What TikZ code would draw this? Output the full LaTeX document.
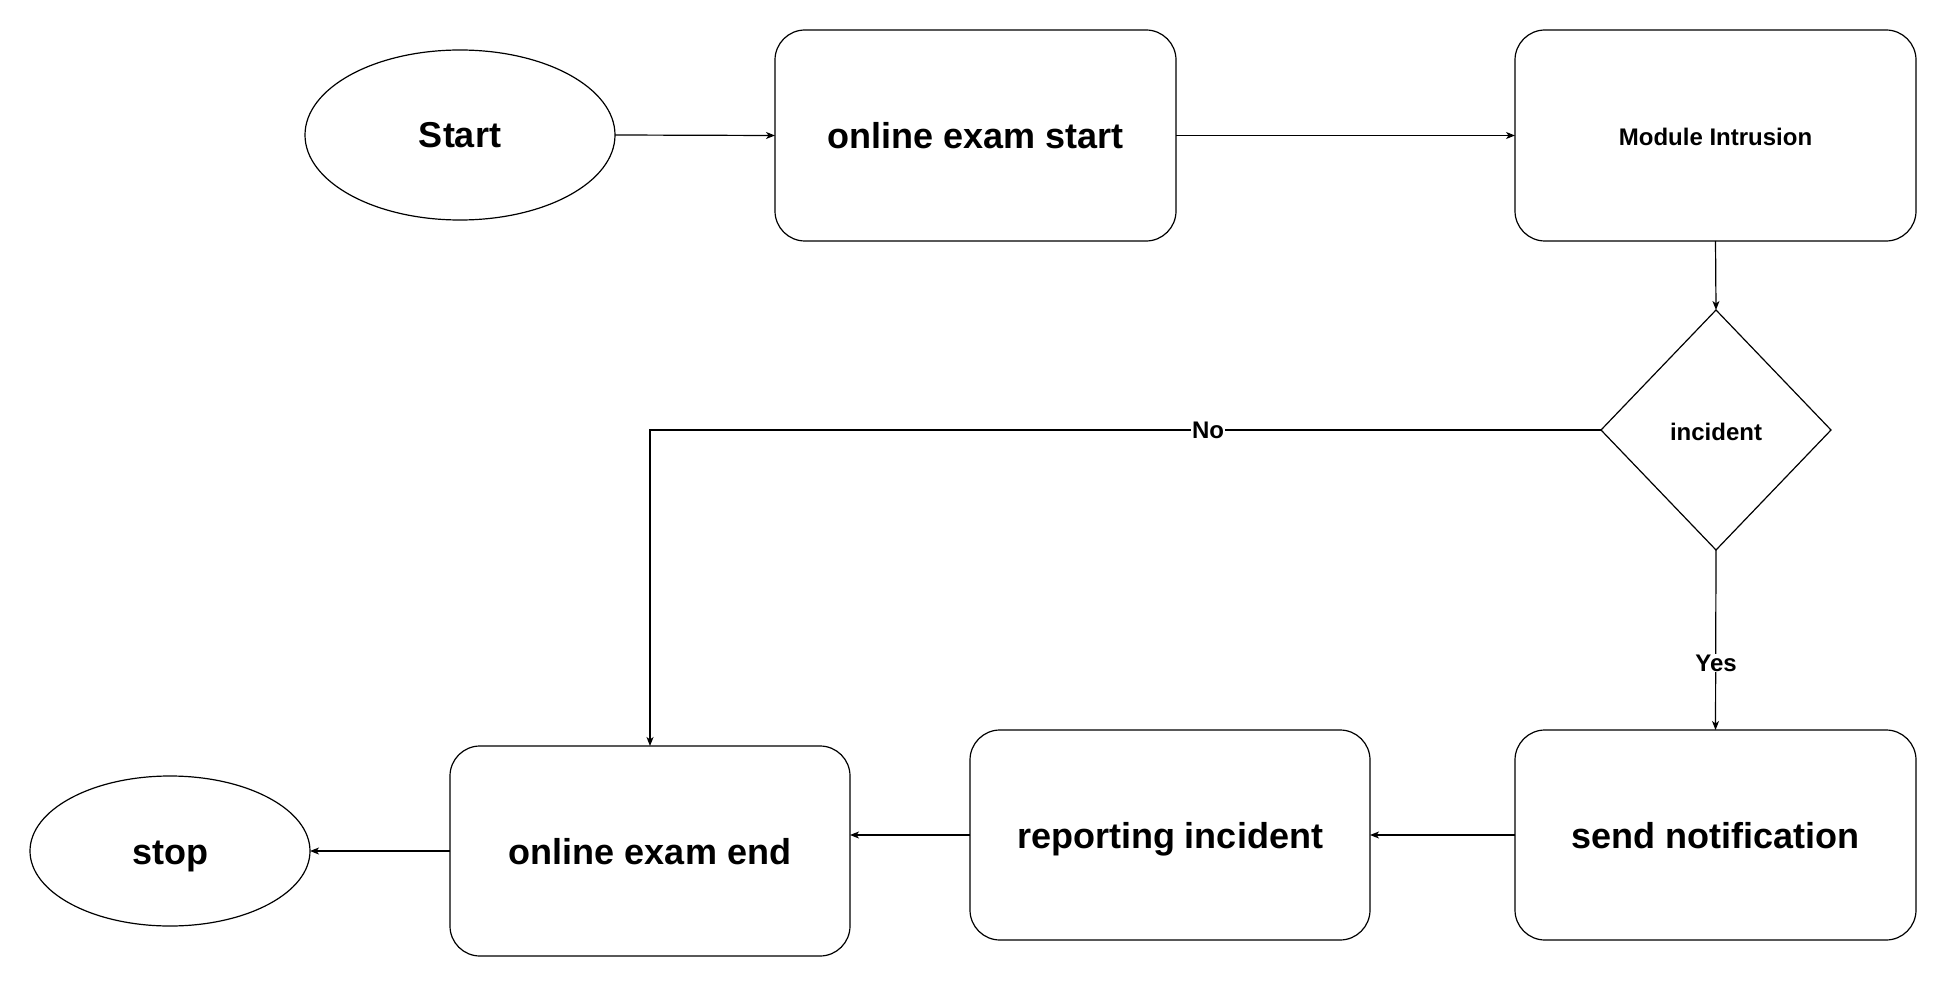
\documentclass[tikz,border=0pt]{standalone}
\usepackage{fontspec}
\setmainfont{Liberation Sans}
\usetikzlibrary{shapes.geometric,arrows.meta}
\begin{document}
\begin{tikzpicture}[x=1pt,y=-1pt,
  base/.style={draw=black, line width=1.2pt, font=\bfseries\fontsize{36}{43}\selectfont, inner sep=0pt, outer sep=0pt, fill=white, text height=32pt, text depth=6pt},
  procbox/.style={base, rectangle, rounded corners=30pt, minimum width=401pt, minimum height=211pt},
  smalltext/.style={font=\bfseries\fontsize{24}{29}\selectfont, text height=22pt, text depth=1.6pt},
  term/.style={base, ellipse},
  decision/.style={base, diamond, minimum width=230pt, minimum height=240pt},
  conn/.style={draw=black, line width=1.2pt, -{Stealth[length=9pt,width=7pt,inset=2.5pt]}},
  lbl/.style={font=\bfseries\fontsize{24}{29}\selectfont, fill=white, inner sep=1pt}
]
\useasboundingbox (0,0) rectangle (1946,987);

\node[term, minimum width=310pt, minimum height=170pt] (start) at (460,135) {Start};
\node[procbox] (oes) at (975.5,135.5) {online exam start};
\node[procbox, smalltext] (mi) at (1715.5,135.5) {Module Intrusion};
\node[decision, smalltext] (dec) at (1716,430) {incident};
\node[procbox, minimum height=210pt] (send) at (1715.5,835) {send notification};
\node[procbox, minimum width=400pt, minimum height=210pt] (rep) at (1170,835) {reporting incident};
\node[procbox, minimum width=400pt, minimum height=210pt] (end) at (650,851) {online exam end};
\node[term, minimum width=280pt, minimum height=150pt] (stop) at (170,851) {stop};

\draw[conn] (start.east) -- (oes.west);
\draw[conn] (oes.east) -- (mi.west);
\draw[conn] (mi.south) -- (dec.north);
\draw[conn] (dec.west) -| (end.north);
\node[lbl] (nolbl) at (1208,430) {No};
\draw[conn] (dec.south) -- (send.north);
\node[lbl] (yeslbl) at (1716,663) {Yes};
\draw[conn] (send.west) -- (rep.east);
\draw[conn] (rep.west) -- (end.east |- rep.west);
\draw[conn] (end.west) -- (stop.east);
\end{tikzpicture}
\end{document}
